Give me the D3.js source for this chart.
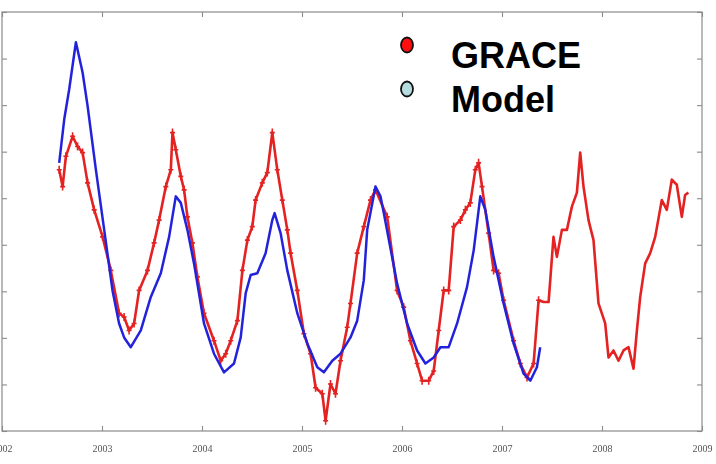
<!DOCTYPE html>
<html>
<head>
<meta charset="utf-8">
<script src="https://cdn.jsdelivr.net/npm/d3@7"></script>
<style>
  html, body { margin: 0; padding: 0; background: #fff; }
  svg { display: block; }
</style>
</head>
<body>
<svg id="chart" width="716" height="464"></svg>
<script>
// GRACE water-storage anomaly (decimal year, value)
const graceYears = [2002.572,2002.606,2002.639,2002.706,2002.756,2002.806,2002.856,2002.922,2003.006,2003.088,
  2003.171,2003.221,2003.271,2003.321,2003.371,2003.455,2003.521,2003.571,2003.638,2003.688,
  2003.705,2003.738,2003.788,2003.821,2003.854,2003.904,2003.954,2004.020,2004.120,2004.187,
  2004.237,2004.287,2004.354,2004.404,2004.454,2004.503,2004.536,2004.603,2004.653,2004.703,
  2004.753,2004.803,2004.853,2004.886,2004.953,2005.019,2005.086,2005.136,2005.203,2005.236,
  2005.285,2005.335,2005.385,2005.452,2005.485,2005.552,2005.618,2005.685,2005.735,2005.852,
  2005.951,2006.017,2006.084,2006.151,2006.201,2006.267,2006.317,2006.367,2006.417,2006.467,
  2006.517,2006.584,2006.634,2006.683,2006.733,2006.766,2006.800,2006.866,2006.916,2006.966,
  2007.016,2007.116,2007.183,2007.250,2007.316,2007.366,2007.416,2007.466,2007.515,2007.549,
  2007.599,2007.649,2007.699,2007.749,2007.782,2007.815,2007.865,2007.915,2007.965,2008.032,
  2008.065,2008.115,2008.165,2008.215,2008.265,2008.315,2008.349,2008.382,2008.432,2008.482,
  2008.532,2008.598,2008.648,2008.698,2008.748,2008.798,2008.831,2008.864];
const graceValues = [16.1,12.5,19.0,23.3,21.1,19.8,13.3,7.5,1.7,-5.5,
  -14.7,-15.5,-18.4,-16.9,-9.8,-5.5,0.4,5.3,12.5,16.1,
  24.1,20.4,14.7,11.8,6.0,0.4,-6.9,-14.7,-20.6,-24.9,
  -23.4,-20.6,-16.3,-5.5,1.0,3.9,9.6,13.3,15.5,24.1,
  16.1,9.6,3.2,-1.8,-9.8,-19.1,-23.4,-30.7,-32.0,-37.8,
  -29.9,-32.0,-24.9,-17.7,-12.6,-1.8,3.9,9.6,11.8,6.0,
  -9.8,-13.4,-20.6,-25.5,-29.2,-29.2,-27.1,-18.4,-9.8,-9.8,
  3.9,5.3,7.5,9.0,16.1,17.6,12.5,2.5,-5.5,-6.1,
  -11.9,-20.6,-25.5,-28.5,-25.5,-11.9,-12.3,-12.3,1.7,-2.6,
  3.2,3.2,8.2,11.2,19.8,12.5,5.3,1.0,-12.6,-16.9,
  -24.2,-22.7,-24.9,-22.7,-22.0,-26.6,-18.4,-11.2,-4.0,-1.8,
  1.7,9.6,7.5,14.0,12.9,6.0,10.7,11.2];
// the GRACE record carries error markers up to this year
const graceMarkerEnd = 2007.4;

// Hydrological model output
const modelYears = [2002.572,2002.622,2002.672,2002.739,2002.806,2002.856,2002.939,2003.022,2003.105,2003.171,
  2003.221,2003.288,2003.388,2003.488,2003.588,2003.671,2003.738,2003.788,2003.854,2003.920,
  2004.020,2004.120,2004.220,2004.320,2004.387,2004.437,2004.487,2004.553,2004.636,2004.703,
  2004.726,2004.786,2004.853,2004.953,2005.053,2005.153,2005.219,2005.303,2005.385,2005.485,
  2005.552,2005.618,2005.652,2005.735,2005.785,2005.818,2005.951,2006.051,2006.151,2006.234,
  2006.317,2006.384,2006.467,2006.551,2006.650,2006.717,2006.783,2006.833,2006.916,2007.016,
  2007.116,2007.216,2007.283,2007.349,2007.382];
const modelValues = [17.6,26.9,33.4,43.5,37.0,29.8,16.1,3.2,-9.8,-16.9,
  -19.9,-22.0,-18.4,-11.2,-6.1,1.7,10.4,9.0,3.2,-4.0,
  -16.9,-23.4,-27.4,-25.5,-19.9,-10.4,-6.5,-6.1,-1.8,5.3,
  6.8,2.5,-5.5,-14.7,-21.2,-26.3,-27.4,-24.9,-23.4,-19.9,
  -16.3,-7.6,3.2,12.5,10.4,6.8,-8.3,-16.9,-22.7,-25.5,
  -24.2,-22.0,-22.0,-16.9,-9.1,-1.2,10.4,7.5,-2.6,-12.6,
  -21.2,-27.7,-29.2,-26.3,-22.0];

const xTickYears = [2002,2003,2004,2005,2006,2007,2008,2009];
const yTickValues = [-40,-30,-20,-10,0,10,20,30,40,50];

const legendNames = ["GRACE", "Model"];
const legendFills = ["#ff1010", "#b5dde0"];

const svg = d3.select("#chart");
const margin = {left: 2, right: 14, top: 12, bottom: 33};
const W = 716, H = 464;

const x = d3.scaleLinear().domain([2002, 2009]).range([margin.left, W - margin.right]);
const y = d3.scaleLinear().domain([-40, 50]).range([H - margin.bottom, margin.top]);

const defs = svg.append("defs");
defs.append("filter").attr("id", "soft")
  .append("feGaussianBlur").attr("stdDeviation", 0.6);
defs.append("filter").attr("id", "softer")
  .append("feGaussianBlur").attr("stdDeviation", 0.5);

// frame
const axisColor = "#8a8a8a";
svg.append("rect")
  .attr("x", x(2002)).attr("y", y(50))
  .attr("width", x(2009) - x(2002)).attr("height", y(-40) - y(50))
  .attr("fill", "#fff").attr("stroke", axisColor).attr("stroke-width", 1.2);

// inward ticks on all four sides
const tickLen = 5;
const bottomAxis = d3.axisBottom(x).tickValues(xTickYears).tickSizeInner(-tickLen).tickSizeOuter(0)
  .tickFormat(d3.format("d")).tickPadding(14);
const topAxis = d3.axisTop(x).tickValues(xTickYears).tickSizeInner(-tickLen).tickSizeOuter(0).tickFormat("");
const leftAxis = d3.axisLeft(y).tickValues(yTickValues).tickSizeInner(-tickLen).tickSizeOuter(0).tickFormat("");
const rightAxis = d3.axisRight(y).tickValues(yTickValues).tickSizeInner(-tickLen).tickSizeOuter(0).tickFormat("");

function styleAxis(g) {
  g.select(".domain").remove();
  g.selectAll(".tick line").attr("stroke", axisColor).attr("stroke-width", 1.1);
  g.selectAll(".tick text").attr("fill", "#555").attr("font-family", "Liberation Serif, serif")
    .attr("font-size", 10).attr("filter", "url(#softer)");
}
svg.append("g").attr("transform", `translate(0,${y(-40)})`).call(bottomAxis).call(styleAxis);
svg.append("g").attr("transform", `translate(0,${y(50)})`).call(topAxis).call(styleAxis);
svg.append("g").attr("transform", `translate(${x(2002)},0)`).call(leftAxis).call(styleAxis);
svg.append("g").attr("transform", `translate(${x(2009)},0)`).call(rightAxis).call(styleAxis);

// series
const grace = graceYears.map((t, i) => ({t, v: graceValues[i]}));
const model = modelYears.map((t, i) => ({t, v: modelValues[i]}));
const line = d3.line().x(d => x(d.t)).y(d => y(d.v));

const plot = svg.append("g").attr("filter", "url(#soft)");

plot.append("path").datum(grace)
  .attr("d", line).attr("fill", "none")
  .attr("stroke", "#e42222").attr("stroke-width", 2.6).attr("stroke-linejoin", "round");

// error markers on the GRACE points
const marked = grace.filter(d => d.t < graceMarkerEnd);
plot.append("g").selectAll("path").data(marked).join("path")
  .attr("d", d => {
    const cx = x(d.t), cy = y(d.v);
    return `M${cx},${cy - 4}V${cy + 4}M${cx - 2.5},${cy}H${cx + 2.5}`;
  })
  .attr("stroke", "#e42222").attr("stroke-width", 1.6).attr("fill", "none");

plot.append("path").datum(model)
  .attr("d", line).attr("fill", "none")
  .attr("stroke", "#2323dc").attr("stroke-width", 2.5).attr("stroke-linejoin", "round");

// legend
const legend = svg.append("g");
legend.append("rect").attr("x", 437).attr("y", 22).attr("width", 256).attr("height", 100).attr("fill", "#fff");
const rows = legend.selectAll("g.row").data(legendNames).join("g").attr("class", "row")
  .attr("transform", (d, i) => `translate(407,${45 + i * 44})`);
rows.append("ellipse").attr("rx", 6).attr("ry", 7.5)
  .attr("fill", (d, i) => legendFills[i]).attr("stroke", "#111").attr("stroke-width", 1.8);
rows.append("text").attr("x", 44).attr("y", 23)
  .attr("font-family", "Liberation Sans, Arial, sans-serif").attr("font-weight", "bold")
  .attr("font-size", 36).attr("fill", "#000").text(d => d);
</script>
</body>
</html>
